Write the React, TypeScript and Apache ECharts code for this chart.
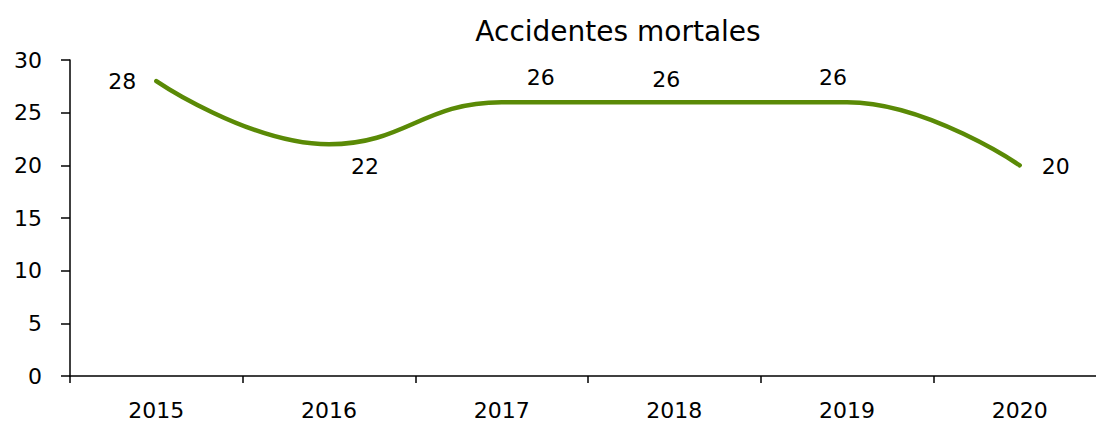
import React, { useEffect, useRef } from "react";
import * as echarts from "echarts";

const categories = ["2015", "2016", "2017", "2018", "2019", "2020"];
const values = [28, 22, 26, 26, 26, 20];
const labelOffsets: [number, number][] = [
  [-34, 0],
  [36, 22],
  [39, -25],
  [-8, -23],
  [-14, -25],
  [36, 1],
];
const yTicks = { min: 0, max: 30, interval: 5 };
const titleText = "Accidentes mortales";

const FONT = "DejaVu Sans";

export default function App() {
  const ref = useRef<HTMLDivElement>(null);
  useEffect(() => {
    if (!ref.current) return;
    const chart = echarts.init(ref.current, undefined, { renderer: "svg" });
    chart.setOption({
      animation: false,
      backgroundColor: "#ffffff",
      title: {
        text: titleText,
        left: 613,
        textAlign: "center",
        top: 12,
        textStyle: { fontFamily: FONT, fontSize: 28, fontWeight: "normal", color: "#000" },
      },
      grid: { left: 70, right: 4, top: 60, bottom: 45, containLabel: false },
      xAxis: {
        type: "category",
        data: categories,
        boundaryGap: true,
        axisLine: { lineStyle: { color: "#000", width: 1.5 } },
        axisTick: { show: true, length: 7, lineStyle: { color: "#000", width: 1.5 } },
        axisLabel: { fontFamily: FONT, fontSize: 22, color: "#000", margin: 23 },
        splitLine: { show: false },
      },
      yAxis: {
        type: "value",
        min: yTicks.min,
        max: yTicks.max,
        interval: yTicks.interval,
        axisLine: { show: true, lineStyle: { color: "#000", width: 1.5 } },
        axisTick: { show: true, length: 9, lineStyle: { color: "#000", width: 1.5 } },
        axisLabel: { fontFamily: FONT, fontSize: 22, color: "#000", margin: 28 },
        splitLine: { show: false },
      },
      series: [
        {
          type: "line",
          data: values.map((v, i) => ({
            value: v,
            label: { offset: labelOffsets[i] },
          })),
          smooth: 0.45,
          symbol: "circle",
          symbolSize: 1,
          showSymbol: true,
          itemStyle: { color: "rgba(0,0,0,0)" },
          lineStyle: { color: "#5a8a06", width: 4.5, cap: "round" },
          label: {
            show: true,
            position: "inside",
            align: "center",
            verticalAlign: "middle",
            fontFamily: FONT,
            fontSize: 22,
            color: "#000",
          },
        },
      ],
    });
    return () => chart.dispose();
  }, []);
  return (
    <div
      ref={ref}
      style={{ position: "fixed", left: 0, top: 0, width: 1110, height: 421, background: "#fff" }}
    />
  );
}
